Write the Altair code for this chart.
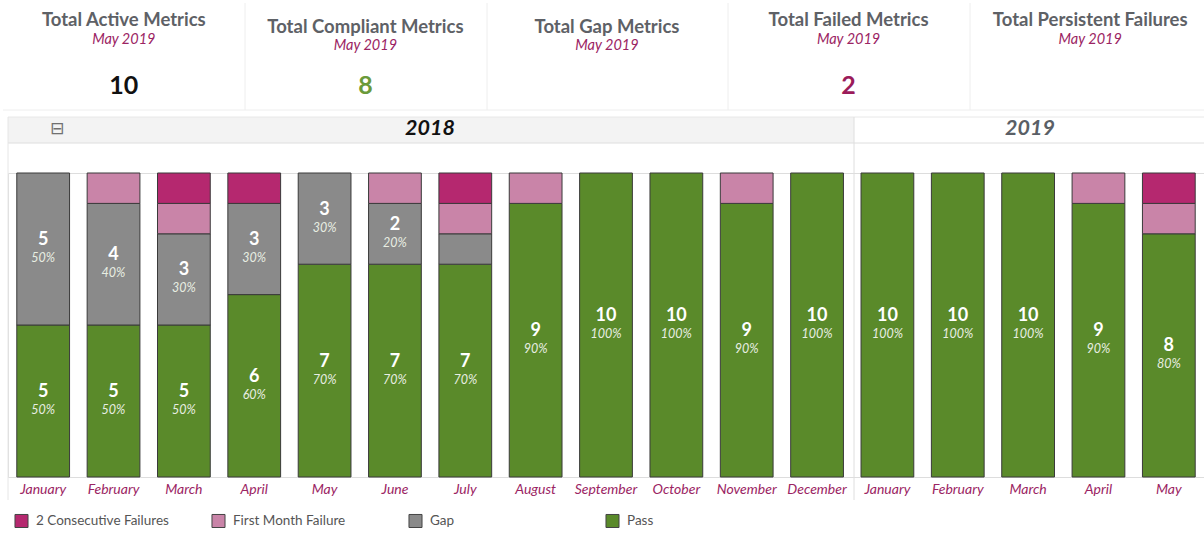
import altair as alt
import pandas as pd

# ---------------- data ----------------
years = ["2018"] * 12 + ["2019"] * 5
months = ["January", "February", "March", "April", "May", "June", "July", "August",
          "September", "October", "November", "December",
          "January", "February", "March", "April", "May"]
pass_vals = [5, 5, 5, 6, 7, 7, 7, 9, 10, 10, 9, 10, 10, 10, 10, 9, 8]
gap_vals = [5, 4, 3, 3, 3, 2, 1, 0, 0, 0, 0, 0, 0, 0, 0, 0, 0]
first_fail_vals = [0, 1, 1, 0, 0, 1, 1, 1, 0, 0, 1, 0, 0, 0, 0, 1, 1]
consec_fail_vals = [0, 0, 1, 1, 0, 0, 1, 0, 0, 0, 0, 0, 0, 0, 0, 0, 1]

statuses = ["2 Consecutive Failures", "First Month Failure", "Gap", "Pass"]
status_colors = ["#B5286F", "#C984A8", "#8A8A8A", "#5A8A2A"]

kpi_titles = ["Total Active Metrics", "Total Compliant Metrics", "Total Gap Metrics",
              "Total Failed Metrics", "Total Persistent Failures"]
kpi_period = "May 2019"
kpi_values = ["10", "8", "", "2", ""]
kpi_value_colors = ["#111111", "#6A9A3A", "#111111", "#9B1B5A", "#111111"]
kpi_offset_group = [0, 1, 1, 0, 0]

year_labels = ["2018", "2019"]

# ---------------- tables ----------------
keys = [f"{y}-{m}" for y, m in zip(years, months)]
series = {"Pass": pass_vals, "Gap": gap_vals,
          "First Month Failure": first_fail_vals,
          "2 Consecutive Failures": consec_fail_vals}
stack_rank = {"Pass": 0, "Gap": 1, "First Month Failure": 2, "2 Consecutive Failures": 3}

rows = []
for i, k in enumerate(keys):
    total = sum(series[s][i] for s in series)
    base = 0
    for s in ["Pass", "Gap", "First Month Failure", "2 Consecutive Failures"]:
        v = series[s][i]
        if v > 0:
            rows.append({"key": k, "status": s, "value": v, "rank": stack_rank[s],
                         "mid": base + v / 2,
                         "count": str(v),
                         "pct": f"{round(v / total * 100)}%",
                         "show": (s in ("Pass", "Gap")) and v >= 2})
        base += v
df = pd.DataFrame(rows)
labels_df = df[df["show"]]

kpi_df = pd.DataFrame({"card": kpi_titles, "period": kpi_period, "val": kpi_values,
                       "vcolor": kpi_value_colors, "grp": kpi_offset_group})

FONT = "Lato"
W, H = 1196, 304

xs = alt.Scale(domain=keys, paddingInner=0.25, paddingOuter=0.125)
ys = alt.Scale(domain=[0, 10], nice=False)

# ---------------- decorations ----------------
deco_base = alt.Chart(pd.DataFrame({"d": [0]}))
header_bg = deco_base.mark_rect(color="#F3F3F3").encode(
    x=alt.value(0), x2=alt.value(846), y=alt.value(-56), y2=alt.value(-30))
line_col = "#DEDEDE"
header_bottom = deco_base.mark_rule(color=line_col).encode(
    x=alt.value(0), x2=alt.value(W + 8), y=alt.value(-30))
header_top = deco_base.mark_rule(color="#E8E8E8").encode(
    x=alt.value(0), x2=alt.value(W + 8), y=alt.value(-56))
sep_rule = deco_base.mark_rule(color=line_col).encode(
    x=alt.value(846), y=alt.value(-56), y2=alt.value(327))
left_rule = deco_base.mark_rule(color="#E6E6E6").encode(
    x=alt.value(0), y=alt.value(-56), y2=alt.value(327))
card_bottom = deco_base.mark_rule(color="#EEEEEE").encode(
    x=alt.value(-5), x2=alt.value(W + 8), y=alt.value(-63))
card_seps = [deco_base.mark_rule(color="#EEEEEE").encode(
    x=alt.value(px), y=alt.value(-170), y2=alt.value(-63)) for px in (237, 479, 720, 962)]
minus_icon = deco_base.mark_text(text="⊟", font="DejaVu Sans", fontSize=17,
                                 color="#707070").encode(x=alt.value(49), y=alt.value(-44))
year18 = deco_base.mark_text(text=year_labels[0], font=FONT, fontSize=21.5, fontWeight="bold",
                             fontStyle="italic", color="#111111").encode(
    x=alt.value(422), y=alt.value(-44))
year19 = deco_base.mark_text(text=year_labels[1], font=FONT, fontSize=21.5, fontWeight="bold",
                             fontStyle="italic", color="#5A5F66").encode(
    x=alt.value(1022), y=alt.value(-44))

# ---------------- bars ----------------
bars = alt.Chart(df).mark_bar(stroke="#3A3A3A", strokeWidth=1).encode(
    x=alt.X("key:N", scale=xs, sort=keys, title=None,
            axis=alt.Axis(labelExpr="split(datum.label, '-')[1]", labelAngle=0,
                          ticks=False, domainColor="#DDDDDD", labelColor="#9B2463",
                          labelFont=FONT, labelFontSize=14, labelFontStyle="italic",
                          labelPadding=5, labelFlush=False)),
    y=alt.Y("value:Q", stack="zero", scale=ys, axis=None),
    color=alt.Color("status:N",
                    scale=alt.Scale(domain=statuses, range=status_colors),
                    legend=alt.Legend(title=None, orient="none", legendX=6, legendY=340,
                                      direction="horizontal", columns=4, gridAlign="all",
                                      columnPadding=40, symbolType="square", symbolSize=170,
                                      symbolStrokeColor="#444444", symbolStrokeWidth=1,
                                      labelFont=FONT, labelFontSize=13.5,
                                      labelColor="#555555", labelOffset=7, padding=0)),
    order=alt.Order("rank:Q", sort="ascending"),
)

xl = alt.X("key:N", scale=xs, sort=keys, axis=None)
count_txt = alt.Chart(labels_df).mark_text(font=FONT, fontSize=18, fontWeight="bold",
                                           color="#FFFFFF", dy=-9).encode(
    x=xl, y=alt.Y("mid:Q", scale=ys, axis=None), text="count:N")
pct_txt = alt.Chart(labels_df).mark_text(font=FONT, fontSize=12.5, fontStyle="italic",
                                         color="#E8EEE2", dy=9).encode(
    x=xl, y=alt.Y("mid:Q", scale=ys, axis=None), text="pct:N")

# ---------------- KPI cards ----------------
kx = alt.X("card:N", sort=kpi_titles,
           scale=alt.Scale(domain=kpi_titles, range=[-5, 1203], paddingInner=0,
                           paddingOuter=0), axis=None)
kpi0 = alt.Chart(kpi_df).transform_filter("datum.grp == 0")
kpi1 = alt.Chart(kpi_df).transform_filter("datum.grp == 1")
k_title0 = kpi0.mark_text(font=FONT, fontSize=18.5, fontWeight="bold", color="#5E6166").encode(
    x=kx, y=alt.value(-153), text="card:N")
k_title1 = kpi1.mark_text(font=FONT, fontSize=18.5, fontWeight="bold", color="#5E6166").encode(
    x=kx, y=alt.value(-146), text="card:N")
k_per0 = kpi0.mark_text(font=FONT, fontSize=14.5, fontStyle="italic", color="#9B2463").encode(
    x=kx, y=alt.value(-133), text="period:N")
k_per1 = kpi1.mark_text(font=FONT, fontSize=14.5, fontStyle="italic", color="#9B2463").encode(
    x=kx, y=alt.value(-127), text="period:N")
k_val = alt.Chart(kpi_df).mark_text(font=FONT, fontSize=25, fontWeight="bold").encode(
    x=kx, y=alt.value(-87), text="val:N",
    color=alt.Color("vcolor:N", scale=None, legend=None))

chart = alt.layer(
    header_bg, header_top, header_bottom, left_rule, sep_rule, card_bottom, *card_seps,
    minus_icon, year18, year19,
    bars, count_txt, pct_txt,
    k_title0, k_title1, k_per0, k_per1, k_val,
).resolve_scale(x="independent", color="independent").properties(
    width=W, height=H,
    autosize=alt.AutoSizeParams(type="none"),
    padding={"left": 8, "top": 173, "right": 0, "bottom": 56},
).configure_view(stroke=None).configure(background="#FFFFFF")

chart.save("out.html", embed_options={"renderer": "svg", "actions": False})
